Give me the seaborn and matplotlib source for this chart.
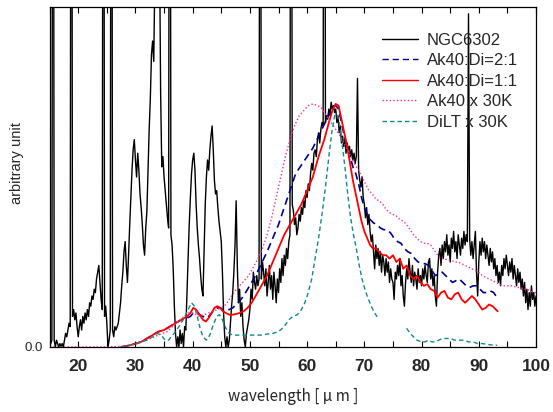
import numpy as np
import matplotlib
matplotlib.use("Agg")
import matplotlib.pyplot as plt
import seaborn as sns

NGC_WL = np.round(np.arange(15.0, 100.0001, 0.2), 1)
NGC_FLUX = [
    0.03, 0.01, 0.02, 3.0, 0.02, 0.00, 0.02, 0.01, 0.00, 0.01,   # 15
    0.00, 0.01, 0.00, 0.02, 0.04, 0.03, 0.05, 0.07, 0.06, 3.0,   # 17
    0.09, 0.11, 0.08, 0.10, 0.06, 0.03, 0.06, 0.08, 0.05, 0.09,  # 19
    0.07, 0.10, 0.08, 0.11, 0.09, 0.13, 0.12, 0.15, 0.14, 0.17,  # 21
    0.16, 0.20, 0.22, 0.24, 0.19, 0.14, 0.11, 3.0, 0.09, 0.12,   # 23
    0.07, 0.00, 0.02, 0.05, 3.0, 0.05, 0.03, 0.06, 0.05, 0.06,   # 25
    0.07, 0.10, 0.13, 0.18, 0.22, 0.28, 0.31, 0.24, 0.19, 0.27,  # 27
    0.36, 0.44, 0.52, 0.58, 0.61, 0.55, 0.50, 0.57, 0.52, 0.45,  # 29
    0.41, 0.36, 0.30, 0.27, 0.35, 0.40, 0.52, 0.64, 0.73, 0.86,  # 31
    0.90, 0.84, 1.10, 1.30, 1.45, 1.40, 1.20, 0.75, 0.53, 0.56,  # 33
    0.50, 0.46, 0.42, 0.38, 0.35, 3.0, 0.33, 0.30, 0.23, 0.12,   # 35
    0.04, 0.00, 0.03, 0.00, 0.05, 0.01, 0.04, 0.00, 0.06, 0.05,  # 37
    0.16, 0.26, 0.36, 0.44, 0.51, 0.55, 0.57, 0.52, 0.42, 0.35,  # 39
    0.30, 0.26, 0.21, 0.17, 0.15, 0.28, 0.42, 0.50, 0.55, 0.52,  # 41
    0.58, 0.62, 0.65, 0.58, 0.49, 0.45, 0.46, 0.41, 0.37, 0.34,  # 43
    0.31, 0.22, 0.10, 0.03, 0.00, 0.03, 0.00, 0.02, 0.07, 0.12,  # 45
    0.16, 0.22, 0.30, 0.43, 0.24, 0.13, 0.17, 0.09, 0.13, 0.06,  # 47
    0.02, 0.00, 0.04, 0.06, 0.08, 0.11, 0.17, 0.14, 0.22, 0.19,  # 49
    0.17, 0.21, 0.18, 0.20, 3.0, 0.20, 0.25, 0.22, 0.18, 0.23,   # 51
    0.15, 0.19, 0.24, 0.17, 0.21, 0.14, 0.22, 0.18, 0.13, 0.20,  # 53
    0.16, 0.23, 0.19, 0.26, 0.21, 0.27, 0.24, 0.29, 0.26, 0.31,  # 55
    0.33, 3.0, 0.42, 0.40, 0.36, 0.38, 0.33, 0.35, 0.39, 0.37,   # 57
    0.41, 0.39, 0.43, 0.41, 0.46, 0.44, 0.48, 0.46, 0.51, 0.54,  # 59
    0.52, 0.57, 0.58, 0.56, 0.61, 0.63, 0.60, 0.64, 0.66, 0.65,  # 61
    3.0, 0.66, 0.68, 0.67, 0.70, 0.68, 0.72, 0.70, 0.71, 0.69,   # 63
    0.70, 0.66, 0.68, 0.63, 0.65, 0.60, 0.62, 0.59, 0.61, 0.57,  # 65
    0.60, 0.58, 0.59, 0.56, 0.58, 0.55, 0.57, 0.54, 0.56, 0.79,  # 67
    0.52, 0.49, 0.47, 0.50, 0.44, 0.42, 0.38, 0.41, 0.36, 0.39,  # 69
    0.34, 0.31, 0.33, 0.28, 0.23, 0.30, 0.26, 0.29, 0.24, 0.28,  # 71
    0.22, 0.27, 0.25, 0.21, 0.26, 0.22, 0.25, 0.19, 0.23, 0.20,  # 73
    0.19, 0.14, 0.22, 0.20, 0.24, 0.21, 0.26, 0.18, 0.21, 0.15,  # 75
    0.12, 0.19, 0.23, 0.20, 0.26, 0.22, 0.19, 0.24, 0.18, 0.22,  # 77
    0.20, 0.17, 0.23, 0.19, 0.21, 0.18, 0.23, 0.20, 0.24, 0.21,  # 79
    0.19, 0.25, 0.26, 0.20, 0.23, 0.18, 0.21, 0.15, 0.12, 0.22,  # 81
    0.27, 0.29, 0.24, 0.30, 0.26, 0.31, 0.28, 0.33, 0.27, 0.30,  # 83
    0.25, 0.32, 0.29, 0.34, 0.28, 0.31, 0.26, 0.33, 0.30, 0.27,  # 85
    0.32, 0.29, 0.34, 0.30, 0.33, 0.31, 0.98, 0.32, 0.27, 0.31,  # 87
    0.26, 0.30, 0.34, 0.22, 0.15, 0.25, 0.31, 0.27, 0.32, 0.28,  # 89
    0.31, 0.26, 0.30, 0.27, 0.24, 0.29, 0.25, 0.28, 0.23, 0.26,  # 91
    0.21, 0.24, 0.19, 0.22, 0.18, 0.24, 0.21, 0.26, 0.23, 0.27,  # 93
    0.24, 0.21, 0.25, 0.22, 0.26, 0.20, 0.24, 0.21, 0.18, 0.23,  # 95
    0.19, 0.22, 0.17, 0.20, 0.15, 0.19, 0.13, 0.17, 0.11, 0.16,  # 97
    0.12, 0.18, 0.14, 0.16, 0.12, 0.15,                          # 99
]

# Ak40:Di=2:1 model
MIX21_WL = [27.5, 29.0, 30.0, 31.0, 32.0, 33.0, 34.0, 35.0, 36.0, 37.0,
            38.0, 39.0, 39.6, 40.1, 40.6, 41.2, 41.8, 42.3, 42.8, 43.3,
            43.8, 44.3, 44.8, 45.3, 45.8, 46.4, 47.0, 47.6, 48.2, 48.9,
            49.6, 50.3, 51.0, 52.0, 53.0, 54.0, 55.0, 56.0, 57.0, 58.0,
            59.0, 60.0, 61.0, 62.0, 63.0, 63.8, 64.5, 65.0, 65.5, 66.0,
            66.5, 67.0, 67.5, 68.0, 68.5, 69.0, 69.5, 70.0, 70.5, 71.0,
            71.6, 72.2, 72.8, 73.4, 74.0, 74.6, 75.2, 75.8, 76.4, 77.0,
            77.6, 78.2, 78.8, 79.4, 80.0, 80.6, 81.2, 81.8, 82.4, 83.0,
            83.6, 84.2, 84.8, 85.4, 86.0, 86.6, 87.2, 87.8, 88.4, 89.0,
            89.6, 90.2, 90.8, 91.4, 92.0, 92.6, 93.2]
MIX21_VAL = [0.0, 0.005, 0.01, 0.015, 0.025, 0.035, 0.045, 0.05, 0.06, 0.07,
             0.08, 0.085, 0.09, 0.10, 0.10, 0.095, 0.09, 0.085, 0.09, 0.10,
             0.11, 0.115, 0.115, 0.11, 0.11, 0.11, 0.115, 0.125, 0.135, 0.15,
             0.17, 0.19, 0.21, 0.245, 0.28, 0.32, 0.36, 0.41, 0.46, 0.51,
             0.535, 0.56, 0.585, 0.62, 0.655, 0.685, 0.705, 0.71, 0.70, 0.66,
             0.62, 0.585, 0.56, 0.53, 0.51, 0.48, 0.44, 0.41, 0.39, 0.375,
             0.365, 0.36, 0.35, 0.345, 0.345, 0.335, 0.32, 0.31, 0.305, 0.29,
             0.28, 0.275, 0.26, 0.25, 0.245, 0.245, 0.24, 0.225, 0.21, 0.215,
             0.22, 0.21, 0.20, 0.19, 0.195, 0.20, 0.19, 0.18, 0.175, 0.18,
             0.18, 0.17, 0.16, 0.16, 0.165, 0.16, 0.145]

# Ak40:Di=1:1 model
MIX11_WL = [27.5, 29.0, 30.0, 31.0, 32.0, 33.0, 34.0, 35.0, 36.0, 37.0,
            38.0, 39.0, 39.6, 40.1, 40.6, 41.2, 41.8, 42.3, 42.8, 43.3,
            43.8, 44.3, 44.8, 45.3, 45.8, 46.4, 47.0, 47.6, 48.2, 48.9,
            49.6, 50.3, 51.0, 52.0, 53.0, 54.0, 55.0, 56.0, 57.0, 58.0,
            59.0, 60.0, 61.0, 62.0, 63.0, 63.8, 64.5, 65.0, 65.5, 66.0,
            66.5, 67.0, 67.5, 68.0, 68.5, 69.0, 69.5, 70.0, 70.5, 71.0,
            71.5, 72.0, 72.6, 73.2, 73.8, 74.4, 75.0, 75.6, 76.2, 76.8,
            77.4, 78.0, 78.6, 79.2, 79.8, 80.4, 81.0, 81.6, 82.2, 82.8,
            83.4, 84.0, 84.6, 85.2, 85.8, 86.4, 87.0, 87.6, 88.2, 88.8,
            89.4, 90.0, 90.6, 91.2, 91.8, 92.4, 93.0, 93.3]
MIX11_VAL = [0.0, 0.005, 0.01, 0.015, 0.025, 0.035, 0.045, 0.05, 0.06, 0.07,
             0.08, 0.09, 0.10, 0.115, 0.11, 0.095, 0.08, 0.075, 0.085, 0.10,
             0.115, 0.12, 0.115, 0.105, 0.10, 0.095, 0.095, 0.097, 0.10, 0.105,
             0.115, 0.13, 0.15, 0.18, 0.21, 0.25, 0.29, 0.33, 0.36, 0.39,
             0.42, 0.46, 0.50, 0.56, 0.61, 0.66, 0.70, 0.715, 0.71, 0.67,
             0.63, 0.59, 0.54, 0.49, 0.45, 0.41, 0.37, 0.34, 0.32, 0.30,
             0.29, 0.29, 0.28, 0.27, 0.27, 0.26, 0.27, 0.25, 0.26, 0.23,
             0.24, 0.21, 0.20, 0.21, 0.19, 0.18, 0.185, 0.17, 0.165, 0.145,
             0.16, 0.165, 0.145, 0.14, 0.155, 0.16, 0.14, 0.13, 0.14, 0.15,
             0.14, 0.125, 0.11, 0.115, 0.125, 0.12, 0.11, 0.105]

# Ak40 x 30K
AK40_WL = [15.0, 20.0, 25.0, 28.0, 30.0, 32.0, 34.0, 35.5, 36.5, 37.5,
           38.5, 39.3, 40.0, 40.6, 41.2, 42.0, 42.8, 43.5, 44.3, 45.0,
           45.8, 46.6, 47.4, 48.2, 49.0, 49.8, 50.6, 51.4, 52.2, 53.0,
           53.8, 54.6, 55.4, 56.2, 57.0, 57.8, 58.6, 59.4, 60.2, 61.0,
           61.8, 62.4, 63.0, 63.6, 64.2, 64.8, 65.4, 66.0, 66.6, 67.2,
           67.8, 68.4, 69.0, 69.6, 70.2, 70.8, 71.4, 72.0, 72.6, 73.2,
           73.8, 74.4, 75.0, 75.6, 76.2, 76.8, 77.4, 78.0, 78.6, 79.2,
           79.8, 80.4, 81.0, 81.6, 82.2, 82.8, 83.4, 84.0, 84.6, 85.2,
           85.8, 86.4, 87.0, 87.6, 88.2, 88.8, 89.4, 90.0, 90.6, 91.2,
           91.8, 92.4, 93.0, 93.6, 94.2, 94.8, 95.4, 96.0, 96.6, 97.2,
           97.8, 98.4, 99.0, 99.6, 100.0]
AK40_VAL = [0.0, 0.0, 0.0, 0.002, 0.008, 0.02, 0.035, 0.045, 0.06, 0.075,
            0.09, 0.10, 0.10, 0.095, 0.09, 0.095, 0.10, 0.105, 0.11, 0.115,
            0.125, 0.145, 0.165, 0.18, 0.195, 0.21, 0.235, 0.26, 0.29, 0.33,
            0.38, 0.44, 0.50, 0.56, 0.61, 0.65, 0.68, 0.695, 0.71, 0.715,
            0.71, 0.705, 0.69, 0.675, 0.66, 0.645, 0.63, 0.615, 0.595, 0.575,
            0.555, 0.535, 0.52, 0.50, 0.48, 0.46, 0.45, 0.435, 0.43, 0.42,
            0.405, 0.395, 0.39, 0.385, 0.375, 0.37, 0.36, 0.345, 0.33, 0.32,
            0.31, 0.305, 0.305, 0.30, 0.285, 0.27, 0.26, 0.26, 0.255, 0.255,
            0.25, 0.25, 0.245, 0.24, 0.235, 0.23, 0.225, 0.22, 0.21, 0.205,
            0.20, 0.195, 0.19, 0.185, 0.18, 0.18, 0.18, 0.18, 0.175, 0.175,
            0.17, 0.17, 0.165, 0.16, 0.16]

# DiLT x 30K (the curve is broken between ~72.5 and ~77.4 um)
DILT_WL_A = [27.5, 29.0, 30.0, 31.0, 32.0, 33.0, 33.8, 34.5, 35.2, 35.8,
             36.5, 37.2, 37.8, 38.5, 39.2, 39.8, 40.3, 40.8, 41.3, 41.8,
             42.4, 43.0, 43.6, 44.2, 44.7, 45.2, 45.8, 46.4, 47.0, 48.0,
             49.0, 50.0, 51.0, 52.0, 53.0, 54.0, 55.0, 56.0, 56.8, 57.5,
             58.3, 59.0, 59.6, 60.2, 60.8, 61.4, 62.0, 62.6, 63.2, 63.8,
             64.3, 64.8, 65.2, 65.6, 66.1, 66.6, 67.1, 67.6, 68.1, 68.6,
             69.1, 69.6, 70.1, 70.6, 71.2, 71.8, 72.4]
DILT_VAL_A = [0.0, 0.005, 0.01, 0.015, 0.02, 0.03, 0.04, 0.035, 0.02, 0.02,
              0.035, 0.05, 0.065, 0.085, 0.11, 0.13, 0.12, 0.09, 0.055, 0.03,
              0.02, 0.035, 0.065, 0.09, 0.095, 0.08, 0.055, 0.04, 0.035, 0.035,
              0.035, 0.035, 0.035, 0.035, 0.038, 0.04, 0.045, 0.06, 0.08, 0.09,
              0.095, 0.11, 0.13, 0.16, 0.20, 0.26, 0.32, 0.39, 0.47, 0.56,
              0.63, 0.68, 0.685, 0.66, 0.60, 0.53, 0.45, 0.38, 0.33, 0.29,
              0.24, 0.20, 0.17, 0.145, 0.12, 0.10, 0.085]
DILT_WL_B = [77.4, 78.0, 78.6, 79.2, 80.0, 80.6, 81.2, 81.8, 82.4, 83.0,
             83.6, 84.4, 85.0, 85.8, 86.6, 87.4, 88.2, 89.0, 89.8, 90.6,
             91.4, 92.2, 93.2]
DILT_VAL_B = [0.055, 0.04, 0.03, 0.02, 0.015, 0.015, 0.02, 0.015, 0.015, 0.02,
              0.025, 0.025, 0.025, 0.02, 0.02, 0.02, 0.015, 0.015, 0.01, 0.01,
              0.008, 0.006, 0.005]

MAJOR_TICKS = [20, 30, 40, 50, 60, 70, 80, 90, 100]
MINOR_TICKS = [15, 25, 35, 45, 55, 65, 75, 85, 95]

sns.set_theme(style="ticks")
plt.rcParams['font.family'] = ['Liberation Sans', 'DejaVu Sans']

fig = plt.figure(figsize=(5.53, 4.12), dpi=100)
ax = fig.add_axes([0.0897, 0.1578, 0.8796, 0.8252])

line_kw = dict(estimator=None, sort=False, ax=ax)
sns.lineplot(x=NGC_WL, y=NGC_FLUX, color='black', lw=1.0, label='NGC6302', **line_kw)
sns.lineplot(x=MIX21_WL, y=MIX21_VAL, color='#00008c', lw=1.2,
             linestyle=(0, (4.5, 2.8)), label='Ak40:Di=2:1', **line_kw)
sns.lineplot(x=MIX11_WL, y=MIX11_VAL, color='#ff0000', lw=1.3, label='Ak40:Di=1:1', **line_kw)
sns.lineplot(x=AK40_WL, y=AK40_VAL, color='#ff2a9a', lw=1.0,
             linestyle=(0, (1, 1.6)), label='Ak40 x 30K', **line_kw)
sns.lineplot(x=DILT_WL_A, y=DILT_VAL_A, color='#118a8a', lw=1.0,
             linestyle=(0, (3.2, 2.2)), label='DiLT x 30K', **line_kw)
sns.lineplot(x=DILT_WL_B, y=DILT_VAL_B, color='#118a8a', lw=1.0,
             linestyle=(0, (3.2, 2.2)), label='_nolegend_', **line_kw)

ax.set_xlim(15, 100)
ax.set_ylim(0, 1)

ax.set_xticks(MAJOR_TICKS, [str(t) for t in MAJOR_TICKS], fontweight='bold', fontsize=12.5)
ax.set_xticks(MINOR_TICKS, minor=True)
ax.tick_params(axis='x', which='both', direction='in', top=True, bottom=True,
               length=4, width=0.8, color='black', pad=9)
ax.set_yticks([0], ['0.0'], fontsize=9.5)
ax.tick_params(axis='y', length=0, pad=5)

for sp in ax.spines.values():
    sp.set_visible(True)
    sp.set_color('black')
    sp.set_linewidth(0.9)

ax.set_xlabel('wavelength [ μ m ]', fontsize=11, family=['Noto Sans CJK JP', 'DejaVu Sans'],
              labelpad=10)
ax.set_ylabel('arbitrary unit', fontsize=10.5)
ax.yaxis.set_label_coords(-0.053, 0.54)

leg = ax.legend(loc='upper left', bbox_to_anchor=(0.683, 0.925), frameon=False, fontsize=12,
                handlelength=2.2, handletextpad=0.5, labelspacing=0.33,
                borderpad=0, borderaxespad=0)
for h in leg.get_lines():
    h.set_linewidth(1.0)

fig.savefig('out.png', dpi=100)
